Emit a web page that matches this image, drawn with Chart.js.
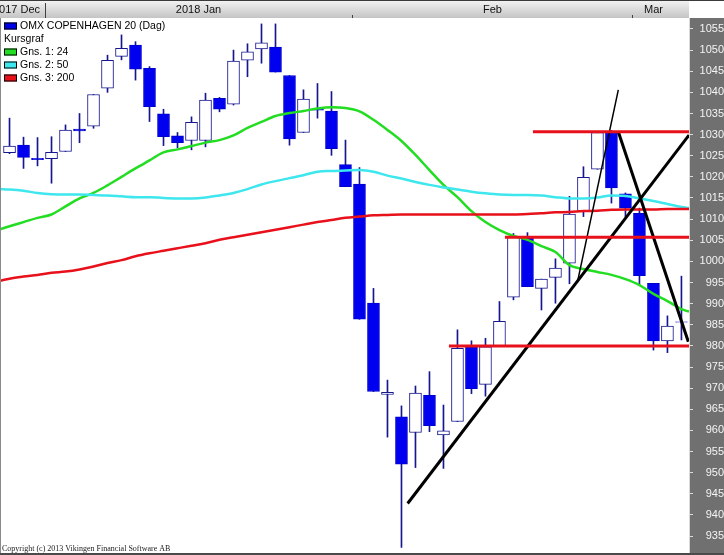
<!DOCTYPE html>
<html>
<head>
<meta charset="utf-8">
<script src="https://cdn.jsdelivr.net/npm/chart.js@4.4.0/dist/chart.umd.min.js"></script>
<style>
  html, body { margin: 0; padding: 0; background: #fff; }
  #wrap { position: relative; width: 724px; height: 555px; }
</style>
</head>
<body>
<div id="wrap"><canvas id="kurs"></canvas></div>
<script>
// handelsdage (x = index)
const dates = [
  '2017-12-27', '2017-12-28', '2017-12-29',
  '2018-01-02', '2018-01-03', '2018-01-04', '2018-01-05', '2018-01-08', '2018-01-09', '2018-01-10',
  '2018-01-11', '2018-01-12', '2018-01-15', '2018-01-16', '2018-01-17', '2018-01-18', '2018-01-19',
  '2018-01-22', '2018-01-23', '2018-01-24', '2018-01-25', '2018-01-26', '2018-01-29', '2018-01-30',
  '2018-01-31',
  '2018-02-01', '2018-02-02', '2018-02-05', '2018-02-06', '2018-02-07', '2018-02-08', '2018-02-09',
  '2018-02-12', '2018-02-13', '2018-02-14', '2018-02-15', '2018-02-16', '2018-02-19', '2018-02-20',
  '2018-02-21', '2018-02-22', '2018-02-23', '2018-02-26', '2018-02-27', '2018-02-28',
  '2018-03-01', '2018-03-02', '2018-03-05', '2018-03-06'
];

const opens = [
  1025.7, 1027.5, 1024.4, 1024.3, 1026.0, 1031.3, 1032.0, 1041.0, 1048.5, 1051.2,
  1045.7, 1034.9, 1029.7, 1028.6, 1028.6, 1038.6, 1037.2, 1047.6, 1050.3, 1050.7,
  1044.0, 1030.5, 1036.0, 1035.6, 1022.9, 1018.3, 990.1, 968.5, 963.2, 959.5,
  968.3, 958.9, 962.1, 979.8, 970.9, 980.0, 991.5, 1005.8, 993.6, 996.2,
  999.6, 1012.0, 1021.8, 1030.5, 1016.0, 1011.4, 994.8, 981.2, 985.7
];
const highs = [
  1033.9, 1029.4, 1029.3, 1029.5, 1032.3, 1035.0, 1039.5, 1048.8, 1053.6, 1052.0,
  1046.1, 1036.0, 1030.5, 1034.2, 1039.8, 1038.8, 1050.0, 1051.5, 1056.2, 1056.2,
  1044.0, 1040.6, 1042.1, 1040.2, 1028.7, 1022.2, 993.6, 971.9, 965.8, 970.5,
  973.9, 966.0, 983.8, 981.2, 981.8, 990.5, 1006.6, 1006.8, 995.8, 1000.6,
  1015.4, 1022.4, 1030.7, 1031.0, 1016.2, 1012.6, 994.8, 987.1, 996.5
];
const lows = [
  1025.5, 1022.0, 1022.6, 1018.5, 1026.0, 1028.1, 1031.5, 1040.0, 1047.7, 1042.9,
  1033.1, 1027.4, 1026.9, 1026.4, 1027.1, 1035.4, 1037.0, 1043.7, 1046.9, 1044.8,
  1027.5, 1030.5, 1033.9, 1025.1, 1017.7, 986.3, 969.2, 958.4, 932.3, 951.2,
  959.7, 951.0, 962.1, 968.7, 968.1, 980.0, 990.9, 994.0, 988.5, 990.1,
  994.7, 1010.6, 1021.8, 1013.8, 1010.6, 994.4, 979.0, 978.4, 981.4
];
const closes = [
  1027.3, 1024.6, 1024.1, 1025.8, 1031.1, 1030.9, 1039.5, 1047.6, 1050.4, 1045.5,
  1036.6, 1029.5, 1028.1, 1032.9, 1038.2, 1036.0, 1047.4, 1049.6, 1051.7, 1044.8,
  1029.0, 1038.4, 1035.8, 1026.7, 1017.7, 986.3, 969.2, 969.0, 952.0, 968.8,
  961.1, 959.9, 979.4, 969.9, 979.8, 985.8, 1005.8, 994.0, 995.8, 998.4,
  1011.2, 1019.9, 1030.5, 1017.4, 1012.6, 996.6, 981.2, 984.7, 985.6
];

// glidende gennemsnit, første og sidste værdi ligger på diagrammets kanter
const maPos = [-0.68, ...dates.map((d, i) => i), 48.54];
const gns1 = [
  1007.6,
  1008.3, 1009.3, 1010.3, 1011.1, 1013.0, 1014.9, 1016.2, 1018.0, 1020.0, 1022.0,
  1023.9, 1025.8, 1026.5, 1027.3, 1028.1, 1028.7, 1029.8, 1031.6, 1033.0, 1034.4,
  1035.1, 1035.6, 1036.2, 1036.5, 1036.3, 1035.5, 1033.5, 1031.1, 1028.5, 1025.2,
  1021.6, 1018.1, 1015.2, 1011.9, 1009.3, 1007.4, 1006.0, 1005.1, 1003.6, 1002.2,
  999.1, 998.2, 997.5, 996.8, 995.8, 994.4, 992.3, 990.6, 988.7,
  988.1
];
const gns2 = [
  1017.1,
  1017.0, 1016.7, 1016.2, 1015.9, 1015.8, 1015.8, 1015.7, 1015.6, 1015.4, 1015.2,
  1015.2, 1015.0, 1014.9, 1014.9, 1015.1, 1015.6, 1016.2, 1017.1, 1018.2, 1019.0,
  1019.7, 1020.4, 1021.2, 1021.4, 1021.5, 1021.6, 1021.2, 1020.3, 1019.6, 1018.8,
  1018.1, 1017.5, 1017.0, 1016.5, 1016.1, 1015.8, 1015.7, 1015.7, 1015.6, 1015.2,
  1014.9, 1014.9, 1015.1, 1015.6, 1015.5, 1014.9, 1014.3, 1013.6, 1012.9,
  1012.6
];
const gns3 = [
  995.4,
  995.9, 996.4, 996.8, 997.3, 997.6, 998.1, 998.8, 999.6, 1000.3, 1001.2,
  1001.9, 1002.5, 1003.1, 1003.7, 1004.3, 1005.1, 1005.7, 1006.3, 1006.9, 1007.5,
  1008.1, 1008.7, 1009.3, 1009.8, 1010.3, 1010.6, 1010.9, 1011.0, 1011.1, 1011.1,
  1011.1, 1011.1, 1011.1, 1011.1, 1011.1, 1011.1, 1011.1, 1011.2, 1011.4, 1011.6,
  1011.7, 1011.9, 1012.0, 1012.2, 1012.3, 1012.3, 1012.3, 1012.4, 1012.4,
  1012.4
];

// indtegnede linjer: [x1, y1, x2, y2] i indeks/kurs
const supportLines = [
  [37.39, 1030.7, 48.54, 1030.7],
  [35.39, 1005.7, 48.54, 1005.7],
  [31.39, 980.0, 48.54, 980.0]
];
const trendLines = [
  [28.44, 942.7, 48.54, 1029.9],
  [43.49, 1030.7, 48.49, 981.0]
];
const thinLines = [
  [40.57, 995.1, 43.49, 1040.6]
];

const yTicks = [935, 940, 945, 950, 955, 960, 965, 970, 975, 980, 985, 990, 995, 1000,
  1005, 1010, 1015, 1020, 1025, 1030, 1035, 1040, 1045, 1050, 1055];

const monthLabels = ['2017 Dec', '2018 Jan', 'Feb', 'Mar'];
const monthLabelAt = [0.5, 13.5, 34.5, 46.0];

const legendTexts = ['OMX COPENHAGEN 20 (Dag)', 'Kursgraf', 'Gns. 1: 24', 'Gns. 2: 50', 'Gns. 3: 200'];
const legendColors = ['#0000e8', null, '#22dd22', '#3ee6ee', '#e8101a'];

const X_MIN = -0.68, X_MAX = 48.54;
const Y_MIN = 930.98, Y_MAX = 1057.6;

const BLUE = '#0000f0';
const NAVY = '#16168f';
const FONT = 'Arial, "Liberation Sans", sans-serif';

const segment = (s, color, width) => ({
  type: 'line',
  data: [{ x: s[0], y: s[1] }, { x: s[2], y: s[3] }],
  borderColor: color,
  borderWidth: width,
  pointRadius: 0,
  order: 0
});
const maLine = (vals, color) => ({
  type: 'line',
  data: vals.map((v, k) => ({ x: maPos[k], y: v })),
  borderColor: color,
  borderWidth: 2.5,
  pointRadius: 0,
  cubicInterpolationMode: 'monotone',
  order: 1
});
const isUp = i => closes[i] >= opens[i];

const frame = {
  id: 'frame',
  beforeDraw(chart) {
    const { ctx, chartArea: a, width, height } = chart;
    ctx.save();
    ctx.fillStyle = '#ffffff';
    ctx.fillRect(0, 0, width, height);
    ctx.fillStyle = '#707070';
    ctx.fillRect(a.right, a.top, width - a.right, height - a.top);
    const g = ctx.createLinearGradient(0, 0, 0, a.top);
    g.addColorStop(0, '#f4f4f4');
    g.addColorStop(1, '#c4c4c4');
    ctx.fillStyle = g;
    ctx.fillRect(0, 0, a.right, a.top);
    ctx.fillStyle = '#3a3a3a';
    ctx.fillRect(0, 0, width, 1);
    ctx.restore();
  },
  afterDraw(chart) {
    const { ctx, chartArea: a, width, height } = chart;
    const x = chart.scales.x;
    ctx.save();
    // månedsskift i toppen
    ctx.fillStyle = '#404040';
    for (let i = 1; i < dates.length; i++) {
      if (dates[i].slice(0, 7) === dates[i - 1].slice(0, 7)) continue;
      const px = Math.round(x.getPixelForValue(i - 0.5));
      const newYear = dates[i].slice(0, 4) !== dates[i - 1].slice(0, 4);
      ctx.fillRect(px, newYear ? 3 : 15, 1, newYear ? a.top - 3 : a.top - 15);
    }
    ctx.fillStyle = '#111';
    ctx.font = '11px ' + FONT;
    ctx.textAlign = 'center';
    ctx.textBaseline = 'middle';
    monthLabels.forEach((t, k) => ctx.fillText(t, x.getPixelForValue(monthLabelAt[k]), 9.5));

    // signaturforklaring
    ctx.textAlign = 'left';
    ctx.font = '10.5px ' + FONT;
    legendTexts.forEach((t, k) => {
      const cy = 26 + k * 13;
      let tx = 4;
      if (legendColors[k]) {
        ctx.fillStyle = legendColors[k];
        ctx.fillRect(4, cy - 3.5, 13, 7);
        ctx.strokeStyle = '#000';
        ctx.lineWidth = 1;
        ctx.strokeRect(4.5, cy - 3, 12, 6);
        tx = 20;
      }
      ctx.fillStyle = '#000';
      ctx.fillText(t, tx, cy);
    });

    // kanter
    ctx.fillStyle = '#8a8a8a';
    ctx.fillRect(0, a.top, 1, height - a.top);
    ctx.fillStyle = '#d8d8d8';
    ctx.fillRect(a.right, a.top, 1, height - a.top);
    ctx.fillStyle = '#4a4a4a';
    ctx.fillRect(0, height - 2, width, 2);

    ctx.fillStyle = '#222';
    ctx.font = '8px "Liberation Serif", "Times New Roman", serif';
    ctx.textBaseline = 'alphabetic';
    ctx.fillText('Copyright (c) 2013 Vikingen Financial Software AB', 2, 551);
    ctx.restore();
  }
};

new Chart(document.getElementById('kurs'), {
  type: 'bar',
  data: {
    datasets: [
      {
        label: 'Væge',
        data: dates.map((d, i) => ({ x: i, y: [lows[i], highs[i]] })),
        backgroundColor: NAVY,
        grouped: false,
        barPercentage: 1,
        categoryPercentage: 1,
        maxBarThickness: 1,
        order: 3
      },
      {
        label: 'OMX COPENHAGEN 20 (Dag)',
        data: dates.map((d, i) => ({ x: i, y: [opens[i], closes[i]] })),
        backgroundColor: dates.map((d, i) => isUp(i) ? '#ffffff' : BLUE),
        borderColor: dates.map((d, i) => isUp(i) ? NAVY : '#0000cc'),
        borderWidth: 1,
        borderSkipped: false,
        grouped: false,
        barPercentage: 1,
        categoryPercentage: 1,
        maxBarThickness: 12,
        order: 2
      },
      maLine(gns3, '#e8101a'),
      maLine(gns2, '#3ee6ee'),
      maLine(gns1, '#22dd22'),
      ...supportLines.map(s => segment(s, '#e8101a', 3)),
      ...trendLines.map(s => segment(s, '#000000', 3)),
      ...thinLines.map(s => segment(s, '#000000', 1.5))
    ]
  },
  options: {
    responsive: true,
    maintainAspectRatio: false,
    animation: false,
    layout: { padding: { top: 18, bottom: 2, left: 0, right: 0 } },
    plugins: { legend: { display: false }, tooltip: { enabled: false } },
    scales: {
      x: { type: 'linear', min: X_MIN, max: X_MAX, display: false, offset: false },
      y: {
        position: 'right',
        min: Y_MIN,
        max: Y_MAX,
        afterFit: s => { s.width = 35; s.paddingTop = 0; s.paddingBottom = 0; },
        afterBuildTicks: s => { s.ticks = yTicks.map(v => ({ value: v })); },
        grid: { drawOnChartArea: false, drawTicks: true, tickLength: 4, color: '#dcdcdc' },
        border: { display: false },
        ticks: {
          color: '#f4f4f4',
          font: { family: FONT, size: 11 },
          padding: 3,
          crossAlign: 'far',
          autoSkip: false,
          callback: v => String(v)
        }
      }
    }
  },
  plugins: [frame]
});
</script>
</body>
</html>
